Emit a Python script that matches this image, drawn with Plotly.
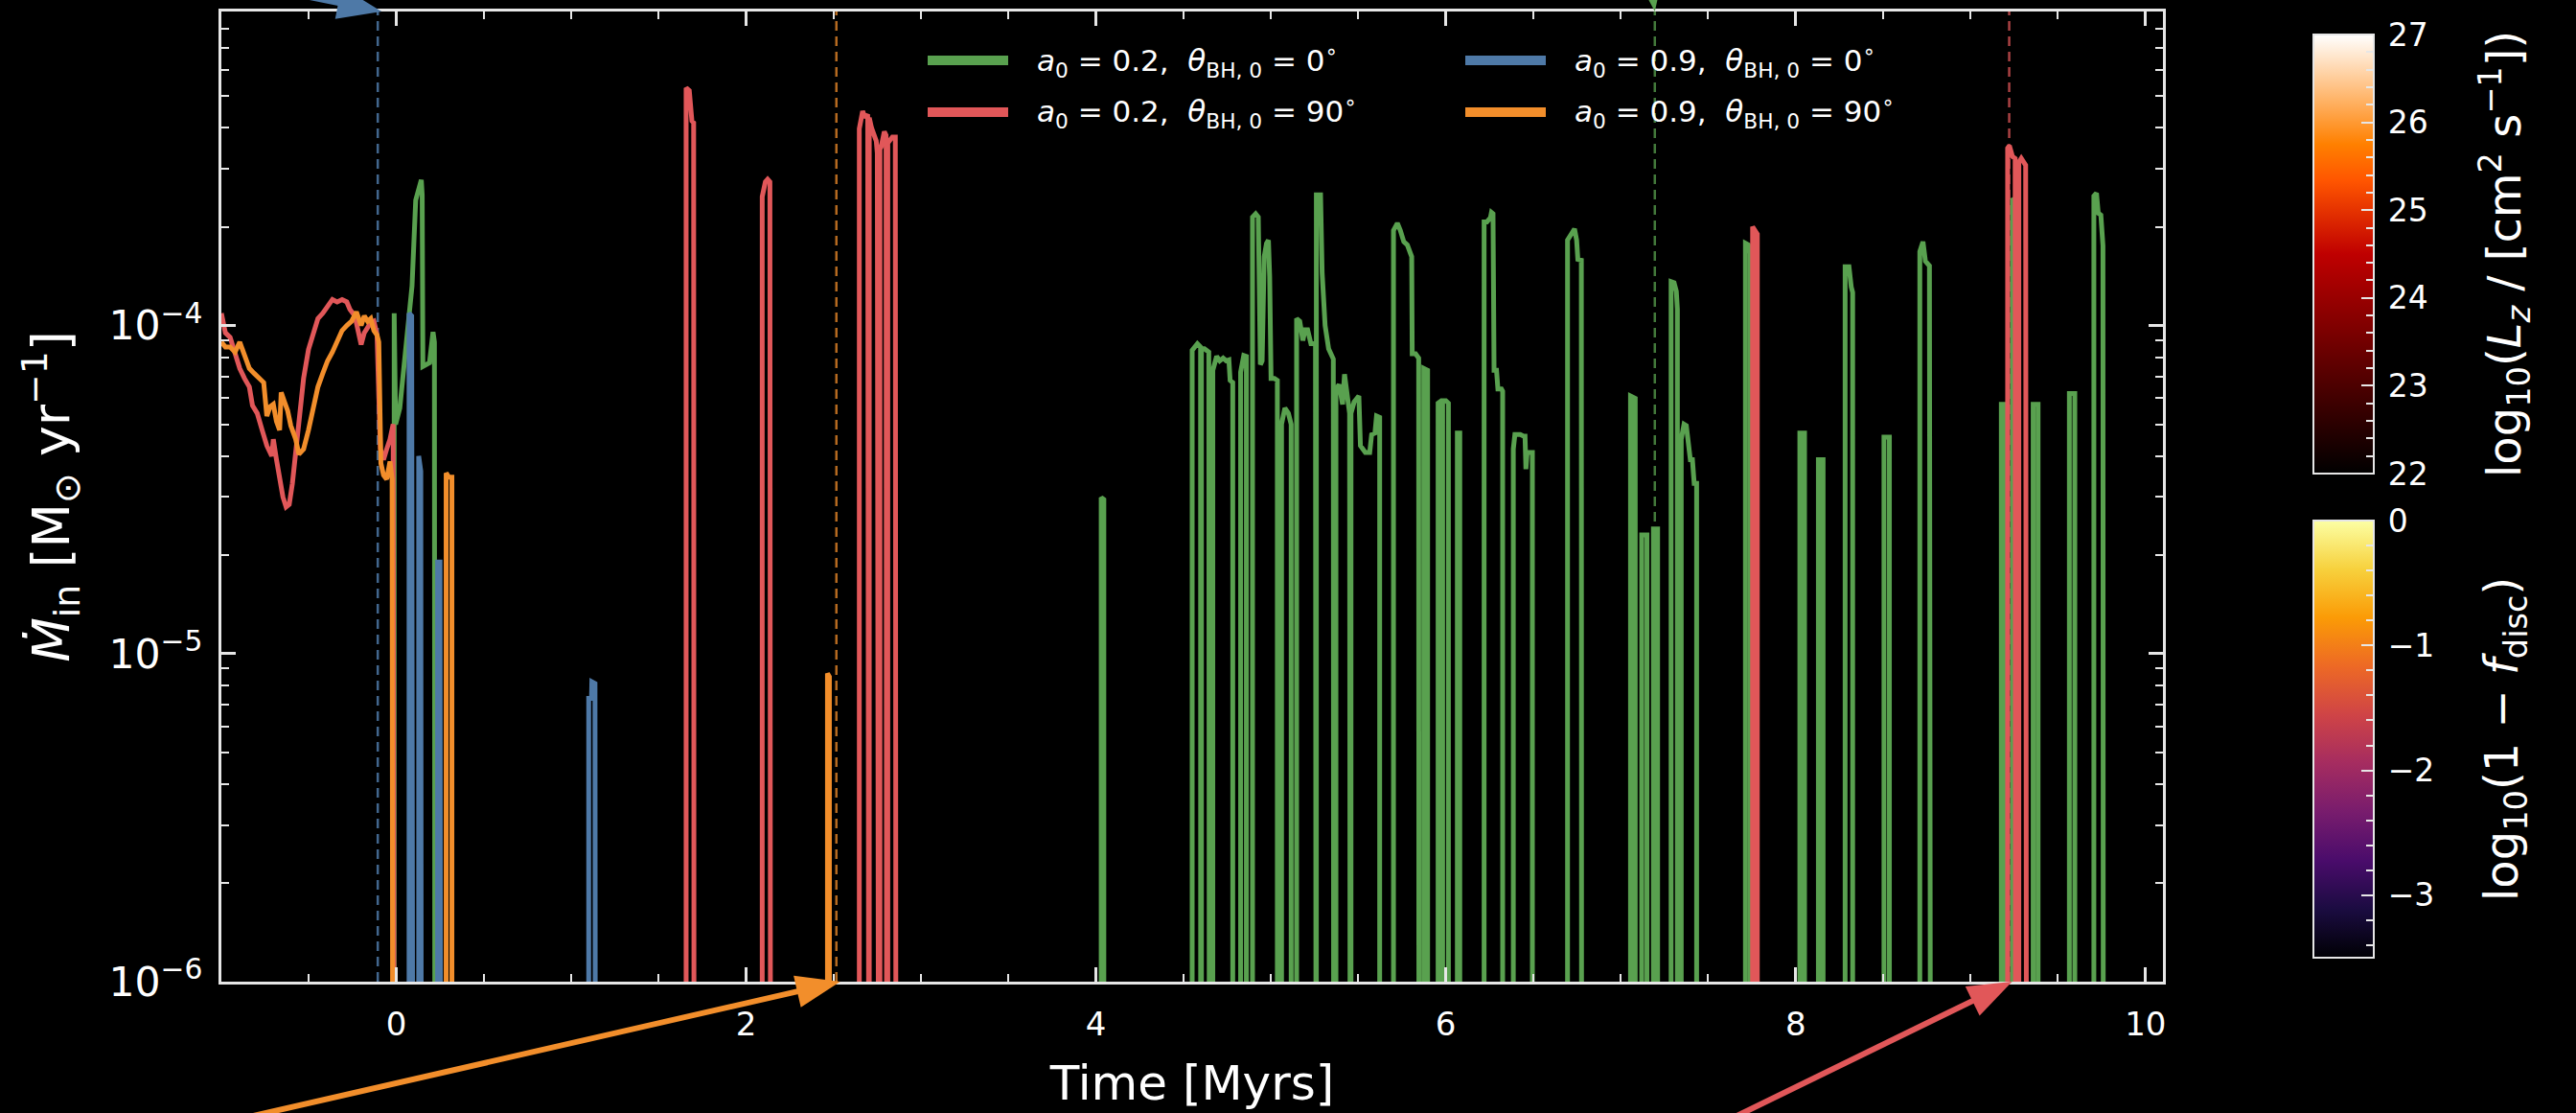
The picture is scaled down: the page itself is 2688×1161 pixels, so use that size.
import math
import plotly.graph_objects as go

# ---------------- data ----------------
FLOOR = 1e-8  # "no accretion" level, below the visible axis range

green_t = [-0.10, -0.012, -0.012, -0.004, 0.020, 0.060, 0.090, 0.111, 0.143, 0.148, 0.152, 0.190, 0.210, 0.218, 0.222,
           4.030, 4.030, 4.045, 4.045,
           4.550, 4.550, 4.580, 4.598, 4.599, 4.603, 4.603, 4.620, 4.645, 4.650,
           4.668, 4.668, 4.690, 4.708, 4.727, 4.745, 4.760, 4.767, 4.782, 4.782,
           4.827, 4.827, 4.845, 4.860, 4.860,
           4.895, 4.895, 4.913, 4.928, 4.935, 4.940, 4.950, 4.962, 4.975, 4.986, 4.993, 5.001, 5.020, 5.037, 5.037,
           5.061, 5.061, 5.080, 5.100, 5.116, 5.116,
           5.147, 5.147, 5.165, 5.183, 5.195, 5.210, 5.229, 5.255, 5.258, 5.260, 5.260, 5.284, 5.293, 5.310, 5.330, 5.357, 5.360,
           5.372, 5.372, 5.390, 5.410, 5.421, 5.435, 5.450, 5.455, 5.458, 5.458, 5.476, 5.503, 5.512, 5.540, 5.565, 5.576, 5.595, 5.604, 5.622, 5.622,
           5.701, 5.701, 5.723, 5.740, 5.760, 5.780, 5.800, 5.805, 5.808, 5.827, 5.845, 5.847,
           5.874, 5.874, 5.896, 5.896,
           5.956, 5.956, 5.975, 5.978, 5.982, 5.982, 6.000, 6.015, 6.015,
           6.066, 6.066, 6.080, 6.080,
           6.219, 6.219, 6.235, 6.245, 6.255, 6.261, 6.270, 6.276, 6.290, 6.298, 6.318, 6.325, 6.325,
           6.386, 6.386, 6.395, 6.426, 6.445, 6.453, 6.458, 6.465, 6.472, 6.495, 6.495,
           6.696, 6.696, 6.715, 6.736, 6.748, 6.755, 6.775, 6.777,
           7.056, 7.056, 7.083, 7.083,
           7.120, 7.120, 7.150, 7.150,
           7.187, 7.187, 7.211, 7.211,
           7.288, 7.288, 7.305, 7.318, 7.324, 7.324,
           7.346, 7.346, 7.362, 7.375, 7.385, 7.398, 7.410, 7.420, 7.434, 7.434,
           7.713, 7.713, 7.730, 7.741, 7.741,
           8.024, 8.024, 8.051, 8.051,
           8.130, 8.130, 8.157, 8.157,
           8.283, 8.283, 8.305, 8.318, 8.326, 8.326,
           8.505, 8.505, 8.536, 8.536,
           8.710, 8.710, 8.728, 8.742, 8.765, 8.774,
           9.176, 9.176, 9.199, 9.199,
           9.240, 9.240, 9.255, 9.255,
           9.358, 9.358, 9.386, 9.386,
           9.565, 9.565, 9.596, 9.596,
           9.705, 9.705, 9.720, 9.730, 9.745, 9.757, 9.760, 9.850]
green_mdot = [FLOOR, FLOOR, 1.09e-4, 5.0e-5, 5.6e-5, 8.9e-5, 1.32e-4, 2.41e-4, 2.78e-4, 2.5e-4, 7.5e-5, 7.7e-5, 9.55e-5, 8.9e-5, FLOOR,
              FLOOR, 2.99e-5, 2.95e-5, FLOOR,
              FLOOR, 8.4e-5, 8.8e-5, 8.6e-5, FLOOR, FLOOR, 8.5e-5, 8.5e-5, 8.3e-5, FLOOR,
              FLOOR, 7.3e-5, 8.05e-5, 7.8e-5, 7.95e-5, 7.8e-5, 7.85e-5, 6.8e-5, 6.7e-5, FLOOR,
              FLOOR, 7.2e-5, 8.1e-5, 8.05e-5, FLOOR,
              FLOOR, 2.14e-4, 2.19e-4, 2.14e-4, 1.12e-4, 7.6e-5, 7.8e-5, 1.62e-4, 1.78e-4, 1.82e-4, 1.41e-4, 6.9e-5, 6.9e-5, 6.8e-5, FLOOR,
              FLOOR, 5.0e-5, 5.6e-5, 5.4e-5, 5.0e-5, FLOOR,
              FLOOR, 1.05e-4, 1.03e-4, 9.0e-5, 9.7e-5, 9.7e-5, 8.8e-5, 8.8e-5, FLOOR, FLOOR, 2.5e-4, 2.5e-4, 1.45e-4, 1.0e-4, 8.5e-5, 7.9e-5, FLOOR,
              FLOOR, 6.4e-5, 6.6e-5, 5.75e-5, 7.1e-5, 6.3e-5, 5.4e-5, FLOOR, FLOOR, 5.4e-5, 5.85e-5, 6.1e-5, 4.3e-5, 4.1e-5, 4.1e-5, 4.65e-5, 4.7e-5, 5.3e-5, 5.25e-5, FLOOR,
              FLOOR, 1.95e-4, 2.05e-4, 1.95e-4, 1.8e-4, 1.76e-4, 1.64e-4, 1.62e-4, 8.2e-5, 8.2e-5, 7.95e-5, FLOOR,
              FLOOR, 7.4e-5, 7.3e-5, FLOOR,
              FLOOR, 5.8e-5, 5.9e-5, FLOOR, FLOOR, 5.9e-5, 5.9e-5, 5.8e-5, FLOOR,
              FLOOR, 4.7e-5, 4.7e-5, FLOOR,
              FLOOR, 2.07e-4, 2.07e-4, 2.11e-4, 2.13e-4, 2.21e-4, 2.19e-4, 7.3e-5, 7.3e-5, 6.4e-5, 6.4e-5, 6.3e-5, FLOOR,
              FLOOR, 4.2e-5, 4.65e-5, 4.65e-5, 4.6e-5, 4.6e-5, 3.65e-5, 4.1e-5, 4.1e-5, 4.1e-5, FLOOR,
              FLOOR, 1.82e-4, 1.88e-4, 1.97e-4, 1.82e-4, 1.59e-4, 1.58e-4, FLOOR,
              FLOOR, 6.1e-5, 6.0e-5, FLOOR,
              FLOOR, 2.3e-5, 2.3e-5, FLOOR,
              FLOOR, 2.4e-5, 2.4e-5, FLOOR,
              FLOOR, 1.36e-4, 1.35e-4, 1.27e-4, 1.12e-4, FLOOR,
              FLOOR, 4.5e-5, 5.0e-5, 4.95e-5, 4.5e-5, 3.9e-5, 3.9e-5, 3.3e-5, 3.3e-5, FLOOR,
              FLOOR, 1.78e-4, 1.76e-4, 1.66e-4, FLOOR,
              FLOOR, 4.7e-5, 4.7e-5, FLOOR,
              FLOOR, 3.9e-5, 3.9e-5, FLOOR,
              FLOOR, 1.51e-4, 1.51e-4, 1.31e-4, 1.26e-4, FLOOR,
              FLOOR, 4.57e-5, 4.57e-5, FLOOR,
              FLOOR, 1.68e-4, 1.80e-4, 1.57e-4, 1.52e-4, FLOOR,
              FLOOR, 5.75e-5, 5.75e-5, FLOOR,
              FLOOR, 2.44e-4, 2.4e-4, FLOOR,
              FLOOR, 5.75e-5, 5.75e-5, FLOOR,
              FLOOR, 6.2e-5, 6.2e-5, FLOOR,
              FLOOR, 2.48e-4, 2.53e-4, 2.2e-4, 2.17e-4, 1.75e-4, FLOOR, FLOOR]

red_t = [-1.000, -0.977, -0.950, -0.922, -0.895, -0.868, -0.840, -0.822, -0.795, -0.767, -0.740, -0.712, -0.703,
         -0.685, -0.667, -0.648, -0.630, -0.612, -0.594, -0.575, -0.557, -0.530, -0.502, -0.475, -0.448, -0.420,
         -0.393, -0.365, -0.338, -0.310, -0.283, -0.265, -0.237, -0.219, -0.201, -0.183, -0.164, -0.146, -0.128,
         -0.110, -0.091, -0.073, -0.055, -0.036, -0.018, -0.009,
         1.657, 1.657, 1.675, 1.690, 1.700, 1.703,
         2.092, 2.092, 2.110, 2.123, 2.136, 2.141,
         2.647, 2.647, 2.666, 2.680, 2.695, 2.700, 2.704, 2.704, 2.717, 2.744, 2.750, 2.760, 2.765, 2.765, 2.772,
         2.790, 2.800, 2.805, 2.810, 2.810, 2.836, 2.853, 2.858,
         7.754, 7.754, 7.781, 7.781,
         9.212, 9.212, 9.222, 9.240, 9.255, 9.258, 9.276, 9.276, 9.290, 9.315, 9.322, 9.850]
red_mdot = [1.09e-4, 9.5e-5, 9.2e-5, 8.2e-5, 7.4e-5, 6.9e-5, 6.5e-5, 5.7e-5, 5.4e-5, 4.8e-5, 4.3e-5, 4.0e-5, 4.5e-5,
            3.9e-5, 3.4e-5, 3.0e-5, 2.8e-5, 2.85e-5, 3.3e-5, 4.05e-5, 5.1e-5, 6.9e-5, 8.45e-5, 9.5e-5, 1.05e-4, 1.09e-4,
            1.14e-4, 1.20e-4, 1.18e-4, 1.20e-4, 1.18e-4, 1.12e-4, 1.07e-4, 9.5e-5, 8.75e-5, 9.5e-5, 9.85e-5, 1.02e-4, 1.03e-4,
            9.35e-5, 4.2e-5, 3.9e-5, 4.2e-5, 4.5e-5, 5.0e-5, FLOOR,
            FLOOR, 5.3e-4, 5.2e-4, 4.2e-4, 4.15e-4, FLOOR,
            FLOOR, 2.47e-4, 2.74e-4, 2.79e-4, 2.74e-4, FLOOR,
            FLOOR, 3.98e-4, 4.5e-4, 4.3e-4, 4.4e-4, FLOOR, FLOOR, 4.3e-4, 4.0e-4, 3.65e-4, 3.35e-4, FLOOR, FLOOR, 3.45e-4, 3.5e-4,
            3.9e-4, 3.8e-4, FLOOR, FLOOR, 3.6e-4, 3.75e-4, 3.75e-4, FLOOR,
            FLOOR, 2.0e-4, 1.9e-4, FLOOR,
            FLOOR, 3.47e-4, 3.53e-4, 3.27e-4, 3.23e-4, FLOOR, FLOOR, 3.14e-4, 3.23e-4, 3.08e-4, FLOOR, FLOOR]

blue_t = [-0.10, 0.073, 0.073, 0.088, 0.098, 0.128, 0.128, 0.140, 0.145, 0.236, 0.236, 0.250, 0.256,
          1.100, 1.100, 1.116, 1.118, 1.136, 1.140, 9.850]
blue_mdot = [FLOOR, FLOOR, 1.09e-4, 1.07e-4, FLOOR, FLOOR, 4.0e-5, 3.6e-5, FLOOR, FLOOR, 1.9e-5, 1.9e-5, FLOOR,
             FLOOR, 7.3e-6, 7.3e-6, 8.2e-6, 8.1e-6, FLOOR, FLOOR]

orange_t = [-1.000, -0.977, -0.950, -0.922, -0.895, -0.868, -0.840, -0.813, -0.785, -0.758, -0.740, -0.722, -0.703,
            -0.685, -0.667, -0.658, -0.639, -0.621, -0.603, -0.575, -0.557, -0.530, -0.502, -0.475, -0.448, -0.420,
            -0.393, -0.365, -0.338, -0.310, -0.283, -0.256, -0.228, -0.201, -0.183, -0.164, -0.146, -0.128, -0.110,
            -0.100, -0.088, -0.073, -0.055, -0.036, -0.024, -0.018,
            0.285, 0.285, 0.300, 0.318, 0.318,
            2.465, 2.465, 2.476, 2.476, 9.850]
orange_mdot = [8.9e-5, 8.6e-5, 8.6e-5, 8.3e-5, 8.9e-5, 8.2e-5, 7.4e-5, 7.15e-5, 6.9e-5, 6.7e-5, 5.3e-5, 5.65e-5, 5.75e-5,
               5.1e-5, 4.8e-5, 6.25e-5, 5.85e-5, 5.5e-5, 4.95e-5, 4.5e-5, 4.05e-5, 4.2e-5, 4.8e-5, 5.5e-5, 6.5e-5, 7.15e-5,
               7.8e-5, 8.3e-5, 8.9e-5, 9.65e-5, 1.0e-4, 1.03e-4, 1.10e-4, 1.0e-4, 1.07e-4, 1.03e-4, 1.05e-4, 9.65e-5, 9.35e-5,
               8.9e-5, 3.8e-5, 3.5e-5, 3.4e-5, 3.85e-5, 3.4e-5, FLOOR,
               FLOOR, 3.55e-5, 3.45e-5, 3.45e-5, FLOOR,
               FLOOR, 8.7e-6, 8.5e-6, FLOOR, FLOOR]

# event times marked by dashed lines / arrows
event_names = ["blue", "orange", "green", "red"]
event_times = [-0.106, 2.516, 7.195, 9.221]

series_names = ["green", "red", "blue", "orange"]
series_labels = ["<i>a</i><sub>0</sub> = 0.2,  <i>θ</i><sub>BH, 0</sub> = 0<sup>∘</sup>",
                 "<i>a</i><sub>0</sub> = 0.2,  <i>θ</i><sub>BH, 0</sub> = 90<sup>∘</sup>",
                 "<i>a</i><sub>0</sub> = 0.9,  <i>θ</i><sub>BH, 0</sub> = 0<sup>∘</sup>",
                 "<i>a</i><sub>0</sub> = 0.9,  <i>θ</i><sub>BH, 0</sub> = 90<sup>∘</sup>"]
COLORS = {"green": "#59a14f", "red": "#e15759", "blue": "#4e79a7", "orange": "#f28e2b"}
DASH_COLORS = {"green": "rgba(89,161,79,0.75)", "red": "rgba(225,87,89,0.75)",
               "blue": "rgba(78,121,167,0.85)", "orange": "rgba(242,142,43,0.75)"}

x_tickvals = [0, 2, 4, 6, 8, 10]
lz_major = [22, 23, 24, 25, 26, 27]
lz_minor = [22 + 0.2 * i for i in range(26)]
fd_major = [-3, -2, -1, 0]
fd_minor = [-3.4 + 0.2 * i for i in range(18)]

# ---------------- layout geometry (page margin removed by post_script) ----------------
W, H = 2688, 1161
ML, MT = 231, 12
MR = W - 2257
MB = H - 1024
PW, PH = W - ML - MR, H - MT - MB
X_RANGE = [-1.0, 10.1]
Y_RANGE = [-6.0, -3.043]
FONT = "DejaVu Sans"
AXC = "#e6e6e6"


def px_to_paper(px, py):
    """figure pixel -> paper coordinates"""
    return (px - ML) / PW, 1 - (py - MT) / PH


data = {"green": (green_t, green_mdot), "red": (red_t, red_mdot),
        "blue": (blue_t, blue_mdot), "orange": (orange_t, orange_mdot)}

fig = go.Figure()
for name in series_names:
    t, m = data[name]
    assert len(t) == len(m), name
    fig.add_trace(go.Scatter(x=t, y=m, mode="lines", name=name, showlegend=False,
                             line=dict(color=COLORS[name], width=5), hoverinfo="skip"))

# ---- colour bars (dummy traces) ----
gist_heat = [[0.0, "rgb(0,0,0)"], [0.5, "rgb(191,0,0)"], [2 / 3, "rgb(255,85,0)"],
             [0.75, "rgb(255,128,0)"], [1.0, "rgb(255,255,255)"]]
clear = [[0, "rgba(0,0,0,0)"], [1, "rgba(0,0,0,0)"]]

cb_x = px_to_paper(2414, 0)[0]
cb_geom = dict(x=cb_x, xanchor="left", xpad=0, ypad=0, thickness=63, thicknessmode="pixels",
               lenmode="pixels", yanchor="bottom")
cbars = [
    # (colorscale, cmin, cmax, bottom px, len px, major ticks, minor ticks)
    (gist_heat, 22, 27, 494, 458, lz_major, lz_minor),
    ("Inferno", -3.5, 0, 999, 456, fd_major, fd_minor),
]
for cs, cmin, cmax, bottom, length, major, minor in cbars:
    ybot = px_to_paper(0, bottom)[1]
    fig.add_trace(go.Scatter(
        x=[None], y=[None], mode="markers", showlegend=False, hoverinfo="skip",
        marker=dict(color=[cmin], colorscale=cs, cmin=cmin, cmax=cmax, showscale=True,
                    colorbar=dict(**cb_geom, y=ybot, len=length, outlinecolor=AXC, outlinewidth=2,
                                  tickvals=major,
                                  ticktext=["\u2009" + ("−" if v < 0 else "") + str(abs(v)) for v in major],
                                  ticks="inside", ticklen=14, tickwidth=2, tickcolor=AXC,
                                  tickfont=dict(size=33, color="white", family=FONT)))))
    # minor ticks: transparent bar on top
    fig.add_trace(go.Scatter(
        x=[None], y=[None], mode="markers", showlegend=False, hoverinfo="skip",
        marker=dict(color=[cmin], colorscale=clear, cmin=cmin, cmax=cmax, showscale=True,
                    colorbar=dict(**cb_geom, y=ybot, len=length, outlinewidth=0,
                                  tickvals=minor, showticklabels=False,
                                  ticks="inside", ticklen=8, tickwidth=2, tickcolor=AXC))))

annotations = []
cb_titles = ["log<sub>10</sub>(<i>L</i><sub><i>z</i></sub> / [cm<sup>2</sup> s<sup>−1</sup>])",
             "log<sub>10</sub>(1 − <i>f</i><sub>disc</sub>)"]
cb_title_y = [265, 771]
for txt, yc in zip(cb_titles, cb_title_y):
    px, py = px_to_paper(2613, yc)
    annotations.append(dict(xref="paper", yref="paper", x=px, y=py, xanchor="center", yanchor="middle",
                            text=txt, textangle=-90, showarrow=False,
                            font=dict(size=48, color="white", family=FONT)))

shapes = []
# dashed event lines (under the curves)
for name, t in zip(event_names, event_times):
    shapes.append(dict(type="line", xref="x", yref="paper", x0=t, x1=t, y0=0, y1=1, layer="below",
                       line=dict(color=DASH_COLORS[name], width=2.5, dash="10px,6px")))

# arrows pointing at the events (tails run off the figure)
# (at top?, tip x-nudge px, tail dx px, tail dy px)
arrow_specs = {"blue": (True, 4, -300, -60), "orange": (False, 4, -700, 160),
               "green": (True, 0, -30, -220), "red": (False, 3, -400, 195)}
HEAD_L, HEAD_HW = 46, 17
for name, t in zip(event_names, event_times):
    top, nudge, dx, dy = arrow_specs[name]
    tipx = ML + (t - X_RANGE[0]) / (X_RANGE[1] - X_RANGE[0]) * PW + nudge
    tipy = MT if top else MT + PH
    L = math.hypot(dx, dy)
    ux, uy = -dx / L, -dy / L
    bx, by = tipx - ux * HEAD_L, tipy - uy * HEAD_L
    nx, ny = -uy, ux
    tail = px_to_paper(tipx + dx, tipy + dy)
    base = px_to_paper(bx + ux * 4, by + uy * 4)
    shapes.append(dict(type="line", xref="paper", yref="paper", x0=tail[0], y0=tail[1], x1=base[0], y1=base[1],
                       layer="above", line=dict(color=COLORS[name], width=6)))
    p1 = px_to_paper(tipx, tipy)
    p2 = px_to_paper(bx + nx * HEAD_HW, by + ny * HEAD_HW)
    p3 = px_to_paper(bx - nx * HEAD_HW, by - ny * HEAD_HW)
    shapes.append(dict(type="path", xref="paper", yref="paper", layer="above",
                       path=f"M{p1[0]},{p1[1]} L{p2[0]},{p2[1]} L{p3[0]},{p3[1]} Z",
                       fillcolor=COLORS[name], line=dict(width=0)))

# hand-built legend (2 columns: green/red | blue/orange)
legend_cols = [968, 1529]
legend_rows = [63, 117]
legend_slots = {"green": (0, 0), "red": (0, 1), "blue": (1, 0), "orange": (1, 1)}
for name, label in zip(series_names, series_labels):
    c, r = legend_slots[name]
    x0, y0 = px_to_paper(legend_cols[c], legend_rows[r])
    x1, _ = px_to_paper(legend_cols[c] + 84, legend_rows[r])
    shapes.append(dict(type="line", xref="paper", yref="paper", x0=x0, x1=x1, y0=y0, y1=y0,
                       line=dict(color=COLORS[name], width=10), layer="above"))
    tx, ty = px_to_paper(legend_cols[c] + 112, legend_rows[r])
    annotations.append(dict(xref="paper", yref="paper", x=tx, y=ty, xanchor="left", yanchor="middle",
                            text=label, showarrow=False, font=dict(size=31, color="white", family=FONT)))

axis_common = dict(showline=True, linecolor=AXC, linewidth=2.5, mirror="allticks", ticks="inside",
                   tickcolor=AXC, tickwidth=2.5, ticklen=15, showgrid=False, zeroline=False,
                   tickfont=dict(size=34, color="white", family=FONT))

fig.update_layout(
    width=W, height=H, autosize=False,
    margin=dict(l=ML, r=MR, t=MT, b=MB, autoexpand=False),
    paper_bgcolor="black", plot_bgcolor="black",
    font=dict(family=FONT, color="white"),
    showlegend=False,
    xaxis=dict(**axis_common, range=X_RANGE, tickvals=x_tickvals, ticklabelstandoff=12,
               minor=dict(ticks="inside", ticklen=8, tickwidth=2, tickcolor=AXC, dtick=0.5, tick0=0),
               title=dict(text="Time [Myrs]", font=dict(size=50, color="white", family=FONT), standoff=26)),
    yaxis=dict(**axis_common, type="log", range=Y_RANGE, dtick=1, exponentformat="power", ticklabelstandoff=10,
               minor=dict(ticks="inside", ticklen=8, tickwidth=2, tickcolor=AXC, dtick="D1"),
               title=dict(text="<i>Ṁ</i><sub>in</sub> [M<sub>⊙</sub> yr<sup>−1</sup>]",
                          font=dict(size=54, color="white", family=FONT), standoff=24)),
    shapes=shapes,
    annotations=annotations,
)

fig.write_html("out.html", config={"displayModeBar": False},
               post_script="document.body.style.margin='0';document.body.style.background='black';")
